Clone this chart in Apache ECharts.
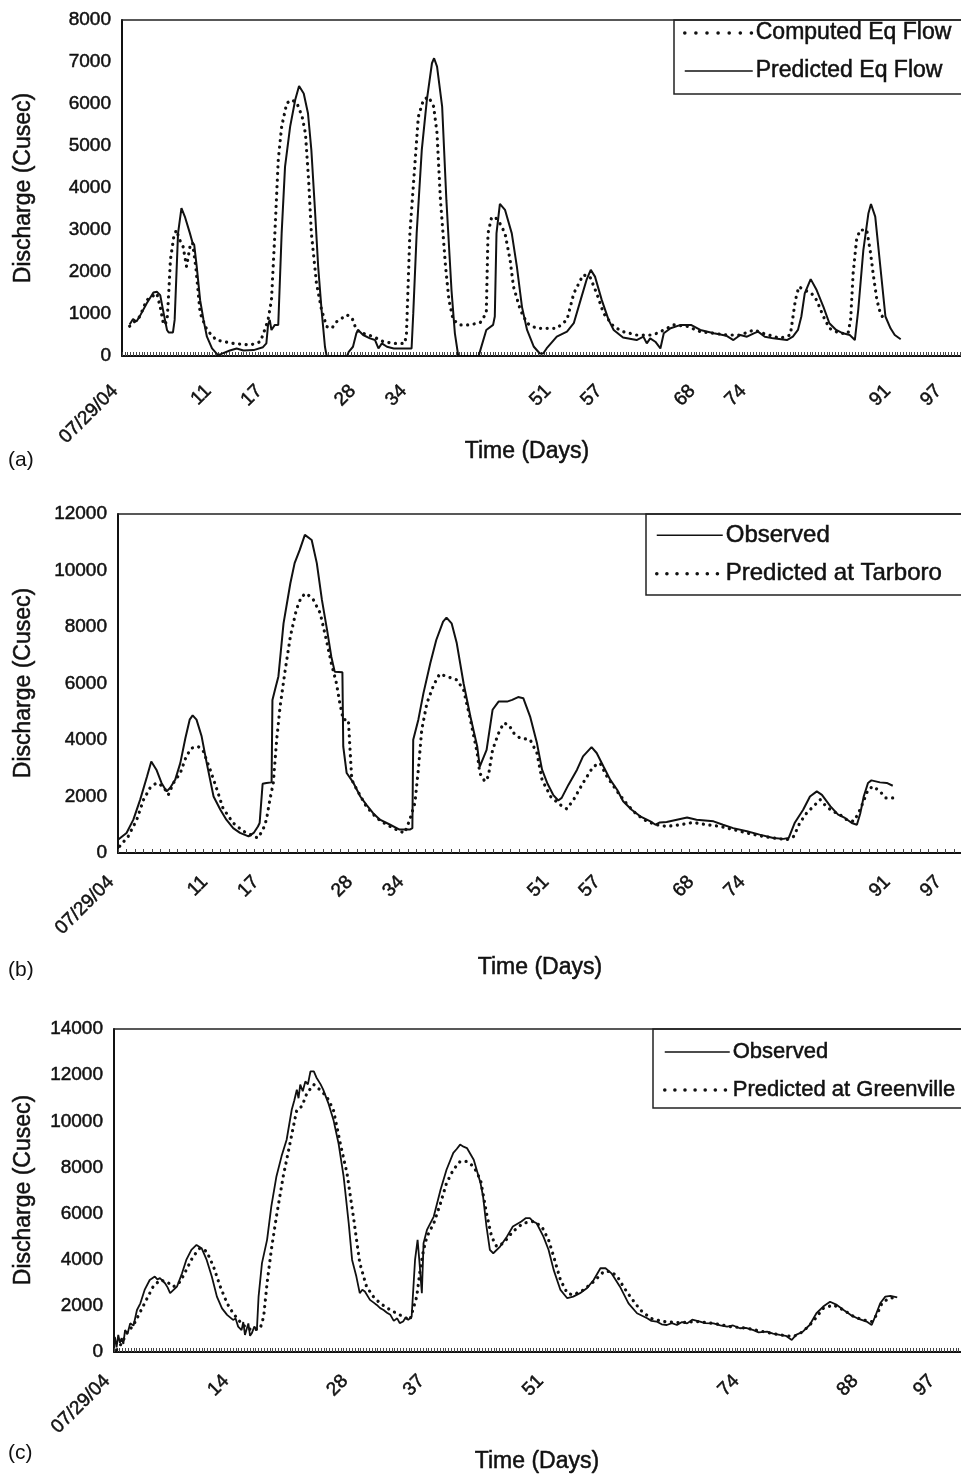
<!DOCTYPE html>
<html>
<head>
<meta charset="utf-8">
<title>Discharge</title>
<script src="https://cdn.jsdelivr.net/npm/echarts@6/dist/echarts.min.js"></script>
<style>
  html, body { margin: 0; padding: 0; background: #fff; }
  #chart { width: 961px; height: 1475px; }
</style>
</head>
<body>
<div id="chart"></div>
<script>
// panel (a)
const computedEqFlow = [[0.9,710],[2.1,940],[2.9,1330],[3.5,1410],[4.1,1490],[4.5,1170],[4.9,740],[5.3,820],[5.5,1490],[5.7,2290],[6.1,2840],[6.4,3000],[6.8,2760],[7.2,2600],[7.6,2130],[8.0,2600],[8.3,2700],[8.7,2100],[9.2,1020],[10.0,620],[11.1,380],[13.1,300],[15.1,260],[16.3,340],[16.8,620],[17.2,860],[17.6,1330],[18.0,2920],[18.4,4670],[18.8,5460],[19.4,6020],[20.0,6100],[20.6,6020],[21.2,5710],[21.6,5300],[22.0,4110],[22.3,2920],[22.9,1730],[23.5,1100],[24.1,700],[24.7,660],[25.3,820],[26.5,980],[27.1,900],[27.6,620],[28.4,540],[29.6,460],[30.8,340],[32.0,300],[33.3,300],[33.5,540],[33.9,2920],[34.3,4030],[34.9,5700],[35.5,6100],[36.1,6170],[36.7,5940],[37.1,5300],[37.5,3710],[38.1,2130],[38.5,1330],[39.0,860],[39.8,740],[41.0,740],[42.2,800],[42.9,1020],[43.1,2920],[43.5,3280],[43.9,3320],[44.5,3160],[45.1,2920],[45.7,2290],[46.1,1650],[46.9,1100],[47.7,780],[48.8,660],[50.0,660],[51.2,660],[52.4,860],[53.2,1490],[53.8,1730],[54.3,1930],[55.1,1890],[55.9,1490],[56.7,1020],[57.9,700],[59.0,580],[60.6,500],[62.2,500],[63.0,540],[63.8,620],[65.0,740],[66.5,710],[68.1,580],[69.7,540],[71.2,500],[72.8,500],[74.4,620],[75.5,540],[77.5,420],[78.7,500],[79.3,1330],[79.7,1650],[80.4,1570],[81.2,1490],[81.8,1330],[82.6,940],[83.3,660],[84.5,540],[85.5,540],[85.8,860],[86.1,1970],[86.5,2760],[86.9,3000],[87.7,3000],[88.1,2520],[88.5,1890],[88.9,1330],[89.3,1020],[89.9,820]];
const predictedEqFlow = [[0.9,750],[1.3,880],[1.7,820],[2.1,950],[2.9,1250],[3.7,1510],[4.1,1530],[4.5,1450],[4.9,1020],[5.3,620],[5.5,560],[6.0,560],[6.2,860],[6.6,2920],[7.0,3520],[7.4,3320],[8.0,2920],[8.3,2700],[8.5,2650],[8.8,2130],[9.2,1330],[9.6,860],[10.0,460],[10.6,180],[11.3,20],[11.7,50],[12.7,130],[13.5,180],[14.3,130],[15.5,140],[16.6,210],[17.0,300],[17.2,740],[17.4,860],[17.6,620],[18.0,740],[18.4,740],[18.8,2920],[19.2,4510],[19.8,5460],[20.4,6100],[20.85,6430],[21.4,6250],[21.9,5780],[22.3,4900],[22.7,3560],[23.1,2130],[23.5,1100],[23.9,220],[24.1,0],[26.5,0],[26.7,100],[27.2,220],[27.6,540],[27.8,620],[28.4,500],[29.2,420],[29.8,380],[30.2,180],[30.6,300],[31.2,220],[32.0,180],[34.1,180],[34.3,1020],[34.7,2920],[35.3,4900],[35.9,6100],[36.5,6970],[36.75,7090],[37.1,6890],[37.7,5940],[38.2,3710],[38.8,1570],[39.2,540],[39.6,0],[42.0,0],[42.2,140],[42.9,620],[43.7,740],[43.9,940],[44.1,2920],[44.5,3620],[45.1,3480],[45.9,2920],[46.5,2130],[47.1,1170],[47.7,620],[48.5,220],[49.2,60],[49.6,60],[50.0,180],[51.2,460],[52.4,580],[53.2,780],[54.0,1330],[54.7,1810],[55.2,2050],[55.7,1890],[56.5,1330],[57.3,860],[57.9,620],[59.0,440],[60.6,380],[61.4,460],[61.8,300],[62.2,420],[62.8,340],[63.4,180],[63.8,540],[64.6,660],[65.8,740],[67.0,740],[68.1,620],[69.7,540],[71.2,480],[72.0,380],[72.8,500],[73.6,460],[74.4,540],[74.9,580],[75.7,460],[76.7,420],[78.3,380],[79.0,460],[79.6,620],[80.0,940],[80.4,1490],[81.1,1830],[81.8,1570],[82.6,1170],[83.3,780],[84.1,620],[84.9,540],[85.7,500],[86.3,380],[86.7,1100],[87.3,2520],[87.9,3400],[88.2,3620],[88.7,3320],[89.3,2130],[89.9,940],[90.5,660],[91.0,500],[91.7,400]];

// panel (b)
const observedTarboro = [[0,470],[1.0,710],[1.8,1180],[2.6,1890],[3.4,2710],[3.9,3240],[4.1,3280],[4.5,2950],[5.1,2480],[5.7,2180],[6.1,2300],[6.7,2590],[7.3,3180],[7.9,4070],[8.4,4720],[8.75,4870],[9.2,4720],[9.8,4130],[10.4,3180],[11.2,2000],[12.0,1530],[12.7,1180],[13.5,880],[14.3,710],[15.3,590],[15.9,710],[16.4,940],[16.6,1060],[16.95,2450],[17.4,2480],[18.0,2500],[18.1,5420],[18.4,5780],[18.8,6250],[19.4,8130],[20.2,9550],[20.7,10260],[21.3,10730],[21.9,11260],[22.1,11290],[22.7,11080],[23.3,10260],[23.9,8960],[24.5,7900],[25.0,6950],[25.4,6420],[26.3,6400],[26.4,3770],[26.8,2830],[27.6,2480],[28.4,2000],[29.1,1710],[29.9,1410],[30.7,1180],[31.9,1000],[33.0,830],[34.2,830],[34.5,880],[34.6,4010],[35.2,4720],[35.8,5660],[36.6,6720],[37.3,7540],[38.1,8190],[38.5,8330],[39.1,8130],[39.7,7430],[40.5,6010],[41.3,4830],[42.1,3770],[42.4,3060],[43.2,3650],[43.9,5070],[44.6,5360],[45.6,5360],[46.2,5420],[46.9,5520],[47.5,5480],[48.3,4830],[49.1,3890],[49.7,2950],[50.3,2480],[51.0,2060],[51.6,1860],[52.0,1950],[52.8,2420],[53.8,2950],[54.5,3420],[55.5,3750],[56.1,3540],[56.9,3060],[57.7,2590],[58.5,2240],[59.2,1830],[60.2,1530],[61.2,1300],[62.4,1120],[63.0,1000],[63.5,1080],[64.3,1100],[65.5,1180],[66.7,1260],[67.8,1180],[69.8,1120],[70.9,1000],[72.1,880],[73.7,770],[75.2,650],[76.8,530],[78.0,500],[78.6,530],[79.3,1060],[80.3,1530],[81.1,2000],[81.9,2180],[82.5,2060],[83.5,1650],[84.4,1360],[85.2,1240],[86.0,1060],[86.6,1000],[87.0,1410],[87.4,2000],[87.9,2480],[88.3,2570],[89.3,2500],[90.1,2480],[90.8,2380]];
const predictedTarboro = [[0.2,240],[1.2,590],[2.2,1180],[3.0,1890],[3.75,2300],[4.5,2480],[5.3,2360],[5.9,2060],[6.5,2480],[7.3,2830],[8.0,3420],[8.6,3710],[9.4,3770],[10.0,3600],[10.8,2950],[11.6,2240],[12.3,1590],[13.5,1060],[14.7,770],[15.9,590],[16.4,530],[17.0,830],[17.4,1180],[17.8,1890],[18.2,2480],[18.6,4010],[19.0,5190],[19.6,6480],[20.2,7660],[20.9,8610],[21.5,9080],[22.1,9190],[22.9,8960],[23.7,8490],[24.5,7430],[25.0,6720],[25.6,6010],[26.0,5300],[26.4,4720],[27.0,4720],[27.2,3650],[27.4,2590],[28.0,2240],[29.1,1650],[30.3,1240],[31.5,1000],[33.0,770],[33.6,710],[34.2,1180],[34.8,1770],[35.2,2950],[35.6,4360],[36.2,5300],[37.0,5950],[37.7,6340],[38.5,6250],[39.7,6130],[40.5,5780],[41.3,4720],[42.1,3540],[42.4,2830],[43.0,2530],[43.4,2710],[43.9,3650],[44.6,4240],[45.2,4600],[45.8,4540],[46.4,4240],[47.1,4070],[48.3,4010],[49.1,3540],[49.7,2590],[50.7,2000],[51.8,1710],[52.6,1560],[53.4,1890],[54.5,2480],[55.7,3060],[56.5,3180],[57.3,2710],[58.5,2180],[59.7,1710],[60.8,1360],[62.0,1120],[63.1,1000],[64.3,940],[65.9,1000],[67.4,1080],[69.0,1000],[70.6,940],[72.1,830],[73.7,710],[75.2,610],[76.8,530],[78.4,470],[79.2,590],[79.9,1060],[80.7,1410],[81.5,1650],[82.3,1890],[83.0,1650],[83.8,1470],[84.6,1360],[85.4,1180],[86.2,1120],[86.7,1360],[87.3,1770],[87.9,2240],[88.5,2360],[89.3,2180],[90.0,1950],[90.8,1950],[91.3,1830]];

// panel (c)
const observedGreenville = [[0,300],[0.1,650],[0.3,200],[0.5,740],[0.7,400],[0.9,600],[1.1,350],[1.3,950],[1.6,800],[1.9,1240],[2.3,1150],[2.7,1820],[3.1,2110],[3.6,2690],[4.2,3120],[4.8,3270],[5.1,3150],[5.4,3200],[6.0,2980],[6.3,2800],[6.6,2550],[7.0,2690],[7.4,2830],[8.0,3410],[8.5,3990],[9.1,4430],[9.7,4640],[10.3,4500],[10.9,3990],[11.5,3270],[12.1,2400],[12.7,1890],[13.3,1610],[14.0,1390],[14.3,1450],[14.6,1100],[15.0,950],[15.2,1300],[15.4,740],[15.6,1000],[15.8,1240],[16.0,700],[16.2,810],[16.5,1100],[16.8,950],[17.0,2400],[17.4,3850],[18.0,4860],[18.5,6310],[19.1,7610],[19.7,8480],[20.3,9200],[20.9,10500],[21.2,10900],[21.5,11370],[21.7,11000],[21.9,11590],[22.2,11300],[22.5,11730],[22.8,11600],[23.1,12160],[23.5,12160],[23.8,11900],[24.0,11950],[24.3,11600],[24.6,11370],[25.2,10790],[25.8,10070],[26.4,9050],[27.0,7610],[27.6,5580],[28.0,3990],[28.5,3270],[28.9,2550],[29.2,2700],[29.5,2620],[30.1,2260],[30.5,2150],[30.9,2040],[31.3,1900],[31.7,1820],[32.1,1700],[32.5,1610],[32.9,1350],[33.3,1460],[33.6,1250],[34.0,1320],[34.3,1500],[34.6,1390],[35.0,1530],[35.4,3990],[35.7,4860],[35.9,3990],[36.2,2550],[36.4,4720],[36.8,5290],[37.6,5870],[38.4,7030],[39.1,7900],[39.9,8630],[40.3,8800],[40.7,8990],[41.1,8900],[41.5,8840],[42.3,8330],[43.1,7320],[43.4,6740],[43.8,5440],[44.2,4430],[44.6,4280],[45.4,4570],[46.2,5000],[46.9,5440],[47.9,5660],[48.4,5800],[48.9,5800],[49.3,5650],[49.7,5580],[50.5,5000],[51.1,4430],[51.7,3560],[52.5,2690],[53.3,2330],[54.0,2400],[54.8,2550],[55.6,2760],[56.4,3120],[57.2,3630],[57.8,3630],[58.5,3410],[59.5,2830],[60.5,2110],[61.5,1680],[62.7,1460],[63.2,1350],[63.8,1320],[64.4,1200],[65.0,1170],[65.6,1250],[66.2,1170],[66.8,1300],[67.4,1240],[68.0,1400],[68.9,1320],[69.5,1250],[70.5,1240],[71.3,1150],[72.1,1100],[72.8,1150],[73.6,1030],[74.3,1050],[75.2,950],[75.8,850],[76.8,880],[77.5,800],[78.3,740],[79.0,700],[79.7,520],[80.2,740],[81.0,880],[81.8,1170],[82.6,1680],[83.4,1970],[84.2,2180],[85.0,2040],[85.8,1820],[86.6,1610],[87.4,1460],[88.5,1320],[89.1,1170],[89.5,1530],[90.1,2110],[90.7,2400],[91.3,2430],[92.1,2370]];
const predictedGreenville = [[0.3,90],[0.9,380],[1.5,810],[2.3,1170],[3.1,1750],[3.8,2260],[4.6,2830],[5.4,3120],[6.2,3050],[7.0,2830],[7.8,3050],[8.5,3560],[9.3,4140],[10.1,4500],[10.9,4360],[11.7,3700],[12.5,2830],[13.3,2110],[14.0,1680],[14.8,1320],[15.6,1030],[16.4,950],[17.2,1030],[17.6,1530],[18.0,2980],[18.5,4430],[19.1,5870],[19.9,7610],[20.7,9050],[21.5,10500],[22.1,10650],[22.7,11230],[23.5,11590],[24.2,11370],[25.0,11080],[25.8,10500],[26.6,9050],[27.4,7750],[28.2,5730],[28.9,3850],[29.7,2830],[30.5,2400],[31.3,2110],[32.5,1820],[33.6,1610],[34.8,1390],[35.6,2400],[36.0,3560],[36.4,4430],[36.8,5000],[37.6,5580],[38.4,6450],[39.1,7320],[39.9,7900],[40.7,8260],[41.5,8260],[42.3,8040],[43.1,7460],[43.8,6020],[44.4,5000],[45.0,4570],[45.8,4720],[46.9,5220],[48.1,5580],[49.3,5660],[50.3,5440],[51.1,4860],[51.7,4140],[52.5,3120],[53.3,2550],[54.0,2470],[55.2,2690],[56.4,3050],[57.6,3490],[58.4,3490],[59.2,3270],[59.9,2830],[60.7,2400],[61.9,1820],[63.1,1460],[64.6,1320],[66.6,1270],[68.6,1320],[70.5,1240],[72.5,1100],[74.4,1030],[76.4,880],[78.3,740],[79.9,670],[81.0,880],[82.2,1320],[83.4,1890],[84.6,2040],[85.8,1820],[87.0,1530],[88.1,1390],[89.1,1320],[89.7,1610],[90.3,2110],[91.1,2330],[92.1,2370]];

const dayTicksAB = [0, 11, 17, 28, 34, 51, 57, 68, 74, 91, 97];
const dayTicksC = [0, 14, 28, 37, 51, 74, 88, 97];
const startDate = '07/29/04';

const FONT = '"Liberation Sans", Arial, Helvetica, sans-serif';
const INK = '#111';

// plots run to the right edge of the page, as in the scan (no right border)
const panels = [
  { top: 20, left: 122, height: 336, max: 8000, step: 1000, xMax: 98.8, labels: dayTicksAB, tickStep: 1 / 3, margin: 25 },
  { top: 514, left: 118, height: 339, max: 12000, step: 2000, xMax: 98.8, labels: dayTicksAB, tickStep: 1, margin: 19 },
  { top: 1029, left: 114, height: 323, max: 14000, step: 2000, xMax: 99.6, labels: dayTicksC, tickStep: 1 / 3, margin: 19 }
];

function minorTicks(max, step) {
  const out = [];
  for (let i = 0; i * step <= max; i++) out.push(+(i * step).toFixed(3));
  return out;
}

const solid = { color: INK, width: 2 };
const dotted = { color: INK, width: 3.2, type: [0.1, 6.5], cap: 'round' };
const heavy = { textBorderColor: INK, textBorderWidth: 0.5 };

const chart = echarts.init(document.getElementById('chart'), null, { renderer: 'canvas' });

const bottomAxes = panels.map((p, i) => ({
  type: 'value', gridIndex: i, min: 0, max: p.xMax, position: 'bottom',
  axisLine: { lineStyle: { color: INK, width: 2 } },
  splitLine: { show: false },
  axisTick: { inside: true, length: 4, lineStyle: { color: '#444', width: 1 }, customValues: minorTicks(p.xMax, p.tickStep) },
  axisLabel: Object.assign({
    customValues: p.labels, rotate: 45, margin: p.margin, padding: [0, 10, 0, 0],
    fontSize: 19, color: INK, fontFamily: FONT,
    formatter: v => (v === 0 ? startDate : String(v))
  }, heavy)
}));

// top frame line of each plot
const topAxes = panels.map((p, i) => ({
  type: 'value', gridIndex: i, min: 0, max: p.xMax, position: 'top',
  axisLine: { show: true, onZero: false, lineStyle: { color: '#222', width: 1.5 } },
  axisTick: { show: false }, axisLabel: { show: false }, splitLine: { show: false }
}));

const option = {
  backgroundColor: '#fff',
  animation: false,
  color: [INK],
  textStyle: { fontFamily: FONT, color: INK },
  grid: panels.map(p => ({ left: p.left, top: p.top, right: 0, height: p.height })),
  xAxis: bottomAxes.concat(topAxes),
  yAxis: panels.map((p, i) => ({
    type: 'value', gridIndex: i, min: 0, max: p.max, interval: p.step,
    axisLine: { show: true, lineStyle: { color: INK, width: 2 } },
    axisTick: { show: false },
    splitLine: { show: false },
    axisLabel: Object.assign({ fontSize: 19, color: INK, margin: 11, fontFamily: FONT, formatter: v => String(v) }, heavy)
  })),
  legend: [
    {
      left: 683, top: 21, orient: 'vertical', itemWidth: 68, itemHeight: 14, itemGap: 14, padding: 0,
      itemStyle: { opacity: 0 },
      textStyle: Object.assign({ fontSize: 23, lineHeight: 24, color: INK, fontFamily: FONT, padding: [0, 0, 0, -2] }, heavy),
      data: [
        { name: 'Computed Eq Flow', lineStyle: { type: [0.1, 11], width: 3.5, cap: 'round' } },
        { name: 'Predicted Eq Flow', lineStyle: { width: 1.5 } }
      ]
    },
    {
      left: 655, top: 523, orient: 'vertical', itemWidth: 66, itemHeight: 14, itemGap: 14, padding: 0,
      itemStyle: { opacity: 0 },
      textStyle: Object.assign({ fontSize: 24, lineHeight: 24, color: INK, fontFamily: FONT, padding: [0, 0, 0, -2] }, heavy),
      data: [
        { name: 'Observed', lineStyle: { width: 1.5 } },
        { name: 'Predicted at Tarboro', lineStyle: { type: [0.1, 10], width: 3.5, cap: 'round' } }
      ]
    },
    {
      left: 663, top: 1040, orient: 'vertical', itemWidth: 65, itemHeight: 14, itemGap: 14, padding: 0,
      itemStyle: { opacity: 0 },
      textStyle: Object.assign({ fontSize: 22, lineHeight: 24, color: INK, fontFamily: FONT, padding: [0, 0, 0, -2] }, heavy),
      data: [
        { name: 'Observed ', lineStyle: { width: 1.5 } },
        { name: 'Predicted at Greenville', lineStyle: { type: [0.1, 10], width: 3.5, cap: 'round' } }
      ]
    }
  ],
  graphic: [
    { type: 'rect', shape: { x: 674, y: 20, width: 300, height: 74 }, style: { fill: 'none', stroke: '#222', lineWidth: 1.5 }, z: 10 },
    { type: 'rect', shape: { x: 646, y: 514, width: 330, height: 81 }, style: { fill: 'none', stroke: '#222', lineWidth: 1.5 }, z: 10 },
    { type: 'rect', shape: { x: 653, y: 1029, width: 330, height: 79 }, style: { fill: 'none', stroke: '#222', lineWidth: 1.5 }, z: 10 },
    ...[188, 683, 1190].map(cy => ({
      type: 'text', x: 24, y: cy, rotation: Math.PI / 2,
      style: { text: 'Discharge (Cusec)', font: '23px ' + FONT, fill: INK, stroke: INK, lineWidth: 0.5, textAlign: 'center', textVerticalAlign: 'middle' }
    })),
    ...[[527, 452], [540, 968], [537, 1462]].map(([cx, cy]) => ({
      type: 'text', x: cx, y: cy,
      style: { text: 'Time (Days)', font: '23px ' + FONT, fill: INK, stroke: INK, lineWidth: 0.5, textAlign: 'center', textVerticalAlign: 'middle' }
    })),
    ...[['(a)', 460], ['(b)', 970], ['(c)', 1453]].map(([t, cy]) => ({
      type: 'text', x: 8, y: cy,
      style: { text: t, font: '21px ' + FONT, fill: INK, textAlign: 'left', textVerticalAlign: 'middle' }
    }))
  ],
  series: [
    { name: 'Computed Eq Flow', type: 'line', xAxisIndex: 0, yAxisIndex: 0, data: computedEqFlow, symbol: 'none', lineStyle: dotted },
    { name: 'Predicted Eq Flow', type: 'line', xAxisIndex: 0, yAxisIndex: 0, data: predictedEqFlow, symbol: 'none', lineStyle: solid },
    { name: 'Observed', type: 'line', xAxisIndex: 1, yAxisIndex: 1, data: observedTarboro, symbol: 'none', lineStyle: solid },
    { name: 'Predicted at Tarboro', type: 'line', xAxisIndex: 1, yAxisIndex: 1, data: predictedTarboro, symbol: 'none', lineStyle: dotted },
    { name: 'Observed ', type: 'line', xAxisIndex: 2, yAxisIndex: 2, data: observedGreenville, symbol: 'none', lineStyle: { color: INK, width: 1.8 } },
    { name: 'Predicted at Greenville', type: 'line', xAxisIndex: 2, yAxisIndex: 2, data: predictedGreenville, symbol: 'none', lineStyle: dotted }
  ]
};

chart.setOption(option);
</script>
</body>
</html>
